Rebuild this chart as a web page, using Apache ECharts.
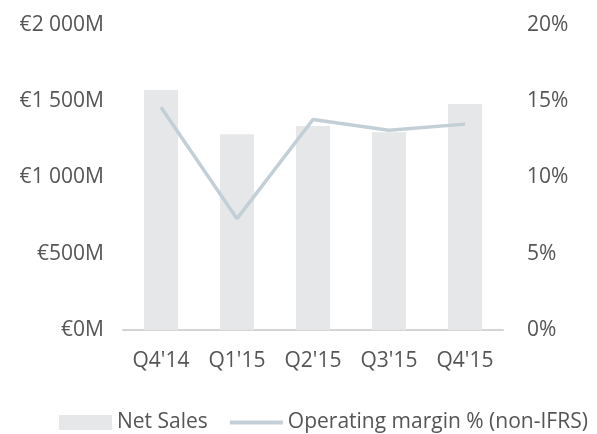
<!DOCTYPE html>
<html>
<head>
<meta charset="utf-8">
<script src="https://cdn.jsdelivr.net/npm/echarts@6/dist/echarts.min.js"></script>
<style>
  html, body { margin: 0; padding: 0; background: #fff; }
  #chart { width: 597px; height: 434px; }
</style>
</head>
<body>
<div id="chart"></div>
<script>
const quarters = ["Q4'14", "Q1'15", "Q2'15", "Q3'15", "Q4'15"];
const netSales = [1574, 1283, 1338, 1296, 1482];
const opMargin = [14.6, 7.3, 13.8, 13.1, 13.5];

const textColor = '#555555';
const fontFamily = "'Open Sans', sans-serif";

const fmtEuro = (v) => '€' + String(v).replace(/\B(?=(\d{3})+(?!\d))/g, ' ') + 'M';

const myChart = echarts.init(document.getElementById('chart'));

const option = {
  animation: false,
  textStyle: { fontFamily: fontFamily },
  grid: { left: 123, right: 94, top: 25, height: 305 },
  legend: {
    top: 407,
    left: 54,
    width: 620,
    itemWidth: 53,
    itemHeight: 15,
    itemGap: 20,
    textStyle: { color: textColor, fontSize: 21, fontFamily: fontFamily },
    data: [
      { name: 'Net Sales', icon: 'rect' },
      {
        name: 'Operating margin % (non-IFRS)',
        itemStyle: { opacity: 0 },
        lineStyle: { width: 4, color: '#c3cfd6' }
      }
    ]
  },
  xAxis: {
    type: 'category',
    data: quarters,
    axisTick: { show: false },
    axisLine: { lineStyle: { color: '#d4d4d4', width: 2 } },
    axisLabel: { color: textColor, fontSize: 21, margin: 21 }
  },
  yAxis: [
    {
      type: 'value',
      min: 0,
      max: 2000,
      interval: 500,
      splitLine: { show: false },
      axisLine: { show: false },
      axisTick: { show: false },
      axisLabel: { color: textColor, fontSize: 21, margin: 19, formatter: fmtEuro }
    },
    {
      type: 'value',
      min: 0,
      max: 20,
      interval: 5,
      splitLine: { show: false },
      axisLine: { show: false },
      axisTick: { show: false },
      axisLabel: { color: textColor, fontSize: 21, margin: 24, formatter: '{value}%' }
    }
  ],
  series: [
    {
      name: 'Net Sales',
      type: 'bar',
      data: netSales,
      barWidth: 34,
      itemStyle: { color: '#e6e7e8' }
    },
    {
      name: 'Operating margin % (non-IFRS)',
      type: 'line',
      yAxisIndex: 1,
      data: opMargin,
      symbol: 'none',
      lineStyle: { color: '#c3cfd6', width: 3.5 },
      itemStyle: { color: '#c3cfd6' }
    }
  ]
};

option && myChart.setOption(option);
</script>
</body>
</html>
